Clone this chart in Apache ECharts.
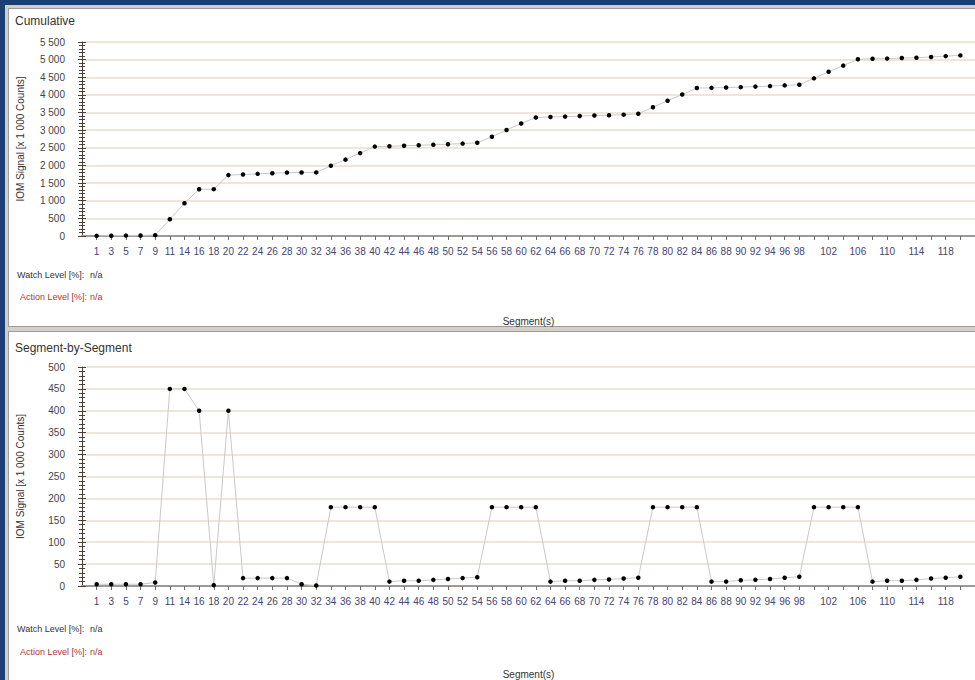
<!DOCTYPE html>
<html>
<head>
<meta charset="utf-8">
<script src="https://cdn.jsdelivr.net/npm/echarts@6/dist/echarts.min.js"></script>
<style>
html, body { margin: 0; padding: 0; background: #1d3f74; overflow: hidden; }
#frame { position: absolute; left: 5px; top: 5px; width: 980px; height: 690px; background: #d4d0c8; }
.panel { position: absolute; left: 8px; width: 975px; background: #fff; border: 1px solid #9c9c9c; box-sizing: border-box; }
#chart { position: absolute; left: 0; top: 0; width: 975px; height: 680px; }
</style>
</head>
<body>
<div id="frame"></div>
<div class="panel" style="top:8px;height:319px"></div>
<div class="panel" style="top:331px;height:360px"></div>
<div id="chart"></div>
<script>
// segment numbers (one point per segment)
const segments = ['1', '3', '5', '7', '9', '11', '14', '16', '18', '20', '22', '24', '26', '28', '30', '32',
  '34', '36', '38', '40', '42', '44', '46', '48', '50', '52', '54', '56', '58', '60', '62', '64', '66', '68',
  '70', '72', '74', '76', '78', '80', '82', '84', '86', '88', '90', '92', '94', '96', '98', '100', '102',
  '104', '106', '108', '110', '112', '114', '116', '118', '120'];

// labels as printed under the ticks (every other one after 98)
const xTickLabels = ['1', '3', '5', '7', '9', '11', '14', '16', '18', '20', '22', '24', '26', '28', '30', '32',
  '34', '36', '38', '40', '42', '44', '46', '48', '50', '52', '54', '56', '58', '60', '62', '64', '66', '68',
  '70', '72', '74', '76', '78', '80', '82', '84', '86', '88', '90', '92', '94', '96', '98', '', '102',
  '', '106', '', '110', '', '114', '', '118', ''];

// IOM signal, x 1 000 counts
const cumulative = [4, 8, 12, 16, 24, 474, 930, 1326, 1328, 1726,
  1744, 1762, 1780, 1798, 1802, 1803, 1990, 2165, 2350, 2535,
  2545, 2557, 2572, 2585, 2603, 2620, 2642, 2815, 3005, 3190,
  3360, 3375, 3385, 3400, 3415, 3425, 3440, 3465, 3650, 3835,
  4010, 4195, 4200, 4210, 4220, 4235, 4250, 4270, 4290, 4470,
  4655, 4830, 5010, 5025, 5030, 5045, 5055, 5075, 5100, 5120];

const perSegment = [4, 4, 4, 4, 8, 450, 450, 400, 2, 400,
  18, 18, 18, 18, 4, 1, 180, 180, 180, 180,
  10, 12, 12, 14, 16, 18, 20, 180, 180, 180,
  180, 10, 12, 12, 14, 15, 17, 19, 180, 180,
  180, 180, 10, 10, 13, 14, 16, 19, 21, 180,
  180, 180, 180, 10, 12, 12, 14, 17, 19, 21];

const cumTicks = { max: 5500, interval: 500 };
const segTicks = { max: 500, interval: 50 };

const FONT = '"Liberation Sans", Arial, sans-serif';
const AXIS_DARK = '#4d4038';
const TICK_BROWN = '#7b6a5e';

function spaced(v) {
  return String(v).replace(/\B(?=(\d{3})+(?!\d))/g, ' ');
}

function xAxes(gi, nameGap) {
  return [
    {
      gridIndex: gi, type: 'value', min: 0, max: 61, interval: 1,
      name: 'Segment(s)', nameLocation: 'middle', nameGap: nameGap,
      nameTextStyle: { fontFamily: FONT, fontSize: 10, color: '#333' },
      axisLine: { lineStyle: { color: AXIS_DARK, width: 1 } },
      axisTick: { show: true, length: 4, lineStyle: { color: TICK_BROWN } },
      axisLabel: {
        margin: 10, fontFamily: FONT, fontSize: 10, color: '#454570',
        showMinLabel: false, showMaxLabel: false,
        formatter: (v) => {
          const i = Math.round(v) - 1;
          if (Math.abs(v - Math.round(v)) > 1e-6) return '';
          return xTickLabels[i] || '';
        },
      },
      splitLine: { show: false },
    },
    {
      gridIndex: gi, type: 'value', min: 0, max: 61, position: 'top',
      axisLine: { lineStyle: { color: '#9a9a9a', width: 2 } },
      axisTick: { show: false }, axisLabel: { show: false }, splitLine: { show: false },
    },
  ];
}

function yAxes(gi, t) {
  return [
    {
      gridIndex: gi, type: 'value', min: 0, max: t.max, interval: t.interval,
      name: 'IOM Signal [x 1 000 Counts]', nameLocation: 'middle', nameGap: 57,
      nameTextStyle: { fontFamily: FONT, fontSize: 10, color: '#333' },
      axisLine: { show: true, lineStyle: { color: AXIS_DARK } },
      axisTick: { show: true, length: 4, lineStyle: { color: AXIS_DARK } },
      minorTick: { show: true, splitNumber: 5, length: 3, lineStyle: { color: AXIS_DARK } },
      axisLabel: { margin: 17, fontFamily: FONT, fontSize: 10, color: '#444', formatter: spaced },
      splitLine: { show: true, lineStyle: { color: '#e8dece', width: 1.5 } },
    },
    {
      // same scale, ticks drawn inwards so they cross the axis line
      gridIndex: gi, type: 'value', min: 0, max: t.max, interval: t.interval, position: 'left',
      axisLine: { show: false },
      axisTick: { show: true, inside: true, length: 4, lineStyle: { color: AXIS_DARK } },
      minorTick: { show: true, splitNumber: 5, length: 3, lineStyle: { color: AXIS_DARK } },
      axisLabel: { show: false }, splitLine: { show: false },
    },
  ];
}

function lineSeries(xi, yi, values) {
  return {
    type: 'line', xAxisIndex: xi, yAxisIndex: yi,
    data: values.map((v, i) => [i + 1, v]),
    symbol: 'circle', symbolSize: 4.5,
    itemStyle: { color: '#000' },
    lineStyle: { color: '#c9c9c9', width: 1 },
    emphasis: { disabled: true },
    animation: false,
  };
}

function label(x, y, text, color) {
  return {
    type: 'text', x: x, y: y, z: 10,
    style: { text: text, font: '9px ' + FONT, fill: color, verticalAlign: 'middle' },
  };
}

const chart = echarts.init(document.getElementById('chart'), null, { renderer: 'svg' });
chart.setOption({
  animation: false,
  grid: [
    { left: 82, top: 42, width: 903, height: 194 },
    { left: 82, top: 367, width: 903, height: 223 },
  ],
  xAxis: [...xAxes(0, 80), ...xAxes(1, 83)],
  yAxis: [...yAxes(0, cumTicks), ...yAxes(1, segTicks)],
  series: [
    lineSeries(0, 0, cumulative),
    lineSeries(2, 2, perSegment),
  ],
  graphic: [
    { type: 'text', x: 15, y: 21, z: 10, style: { text: 'Cumulative', font: '12px ' + FONT, fill: '#333', verticalAlign: 'middle' } },
    { type: 'text', x: 15, y: 348, z: 10, style: { text: 'Segment-by-Segment', font: '12px ' + FONT, fill: '#333', verticalAlign: 'middle' } },
    label(17, 275, 'Watch Level [%]:', '#333'),
    label(90, 275, 'n/a', '#333'),
    label(20, 297, 'Action Level [%]:', '#b03434'),
    label(90, 297, 'n/a', '#b03434'),
    label(17, 629, 'Watch Level [%]:', '#333'),
    label(90, 629, 'n/a', '#333'),
    label(20, 652, 'Action Level [%]:', '#b03434'),
    label(90, 652, 'n/a', '#b03434'),
  ],
});
</script>
</body>
</html>
